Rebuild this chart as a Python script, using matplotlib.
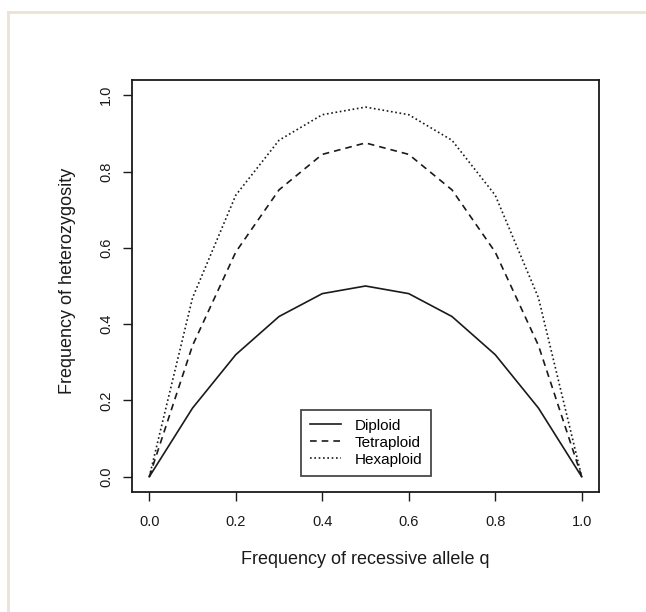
import matplotlib.pyplot as plt
from matplotlib.lines import Line2D

plt.rcParams["font.family"] = ["Liberation Sans", "DejaVu Sans"]

q = [0.0, 0.1, 0.2, 0.3, 0.4, 0.5, 0.6, 0.7, 0.8, 0.9, 1.0]
diploid = [0.0, 0.18, 0.32, 0.42, 0.48, 0.50, 0.48, 0.42, 0.32, 0.18, 0.0]
tetraploid = [0.0, 0.344, 0.589, 0.752, 0.845, 0.875, 0.845, 0.752, 0.589, 0.344, 0.0]
hexaploid = [0.0, 0.469, 0.738, 0.882, 0.949, 0.969, 0.949, 0.882, 0.738, 0.469, 0.0]
series = [("Diploid", diploid, "-"), ("Tetraploid", tetraploid, (0, (4, 3))),
          ("Hexaploid", hexaploid, (0, (1, 1.6)))]
ticks = [0.0, 0.2, 0.4, 0.6, 0.8, 1.0]
tick_labels = ["0.0", "0.2", "0.4", "0.6", "0.8", "1.0"]

W, H = 646, 612
ink = "#1a1a1a"

fig = plt.figure(figsize=(W / 100, H / 100), dpi=100)
# beige page border along top and left
fig.add_artist(Line2D([8 / W, 1], [1 - 12 / H, 1 - 12 / H], color="#ece2d6", lw=2))
fig.add_artist(Line2D([8 / W, 8 / W], [0, 1 - 12 / H], color="#ece2d6", lw=2))

ax = fig.add_axes([132 / W, 1 - 492 / H, 467 / W, 412 / H])
for name, ys, ls in series:
    ax.plot(q, ys, color=ink, lw=1.2, ls=ls, label=name)

ax.set_xlim(-0.04, 1.04)
ax.set_ylim(-0.04, 1.04)
ax.set_xticks(ticks)
ax.set_yticks(ticks)
ax.set_xticklabels(tick_labels)
ax.set_yticklabels(tick_labels, rotation=90, va="center")
ax.tick_params(direction="out", length=6.5, width=1, labelsize=10.5, colors=ink)
ax.tick_params(axis="x", pad=10)
ax.tick_params(axis="y", pad=7)
for sp in ax.spines.values():
    sp.set_linewidth(1.3)
    sp.set_color(ink)

fig.text((132 + 467 / 2) / W, 1 - 560 / H, "Frequency of recessive allele q",
         fontsize=13, ha="center", va="center", color=ink)
fig.text(67 / W, 1 - 281 / H, "Frequency of heterozygosity",
         fontsize=13, ha="center", va="center", rotation=90, color=ink)

leg = ax.legend(loc="lower left", bbox_to_anchor=((301 - 132) / 467, (492 - 476) / 412),
                fontsize=11, frameon=True, fancybox=False, handlelength=2.0,
                handletextpad=0.9, borderpad=0.6, labelspacing=0.2, borderaxespad=0)
leg.get_frame().set_edgecolor(ink)
leg.get_frame().set_linewidth(1.3)

fig.savefig("out.png", dpi=100, facecolor="white")
